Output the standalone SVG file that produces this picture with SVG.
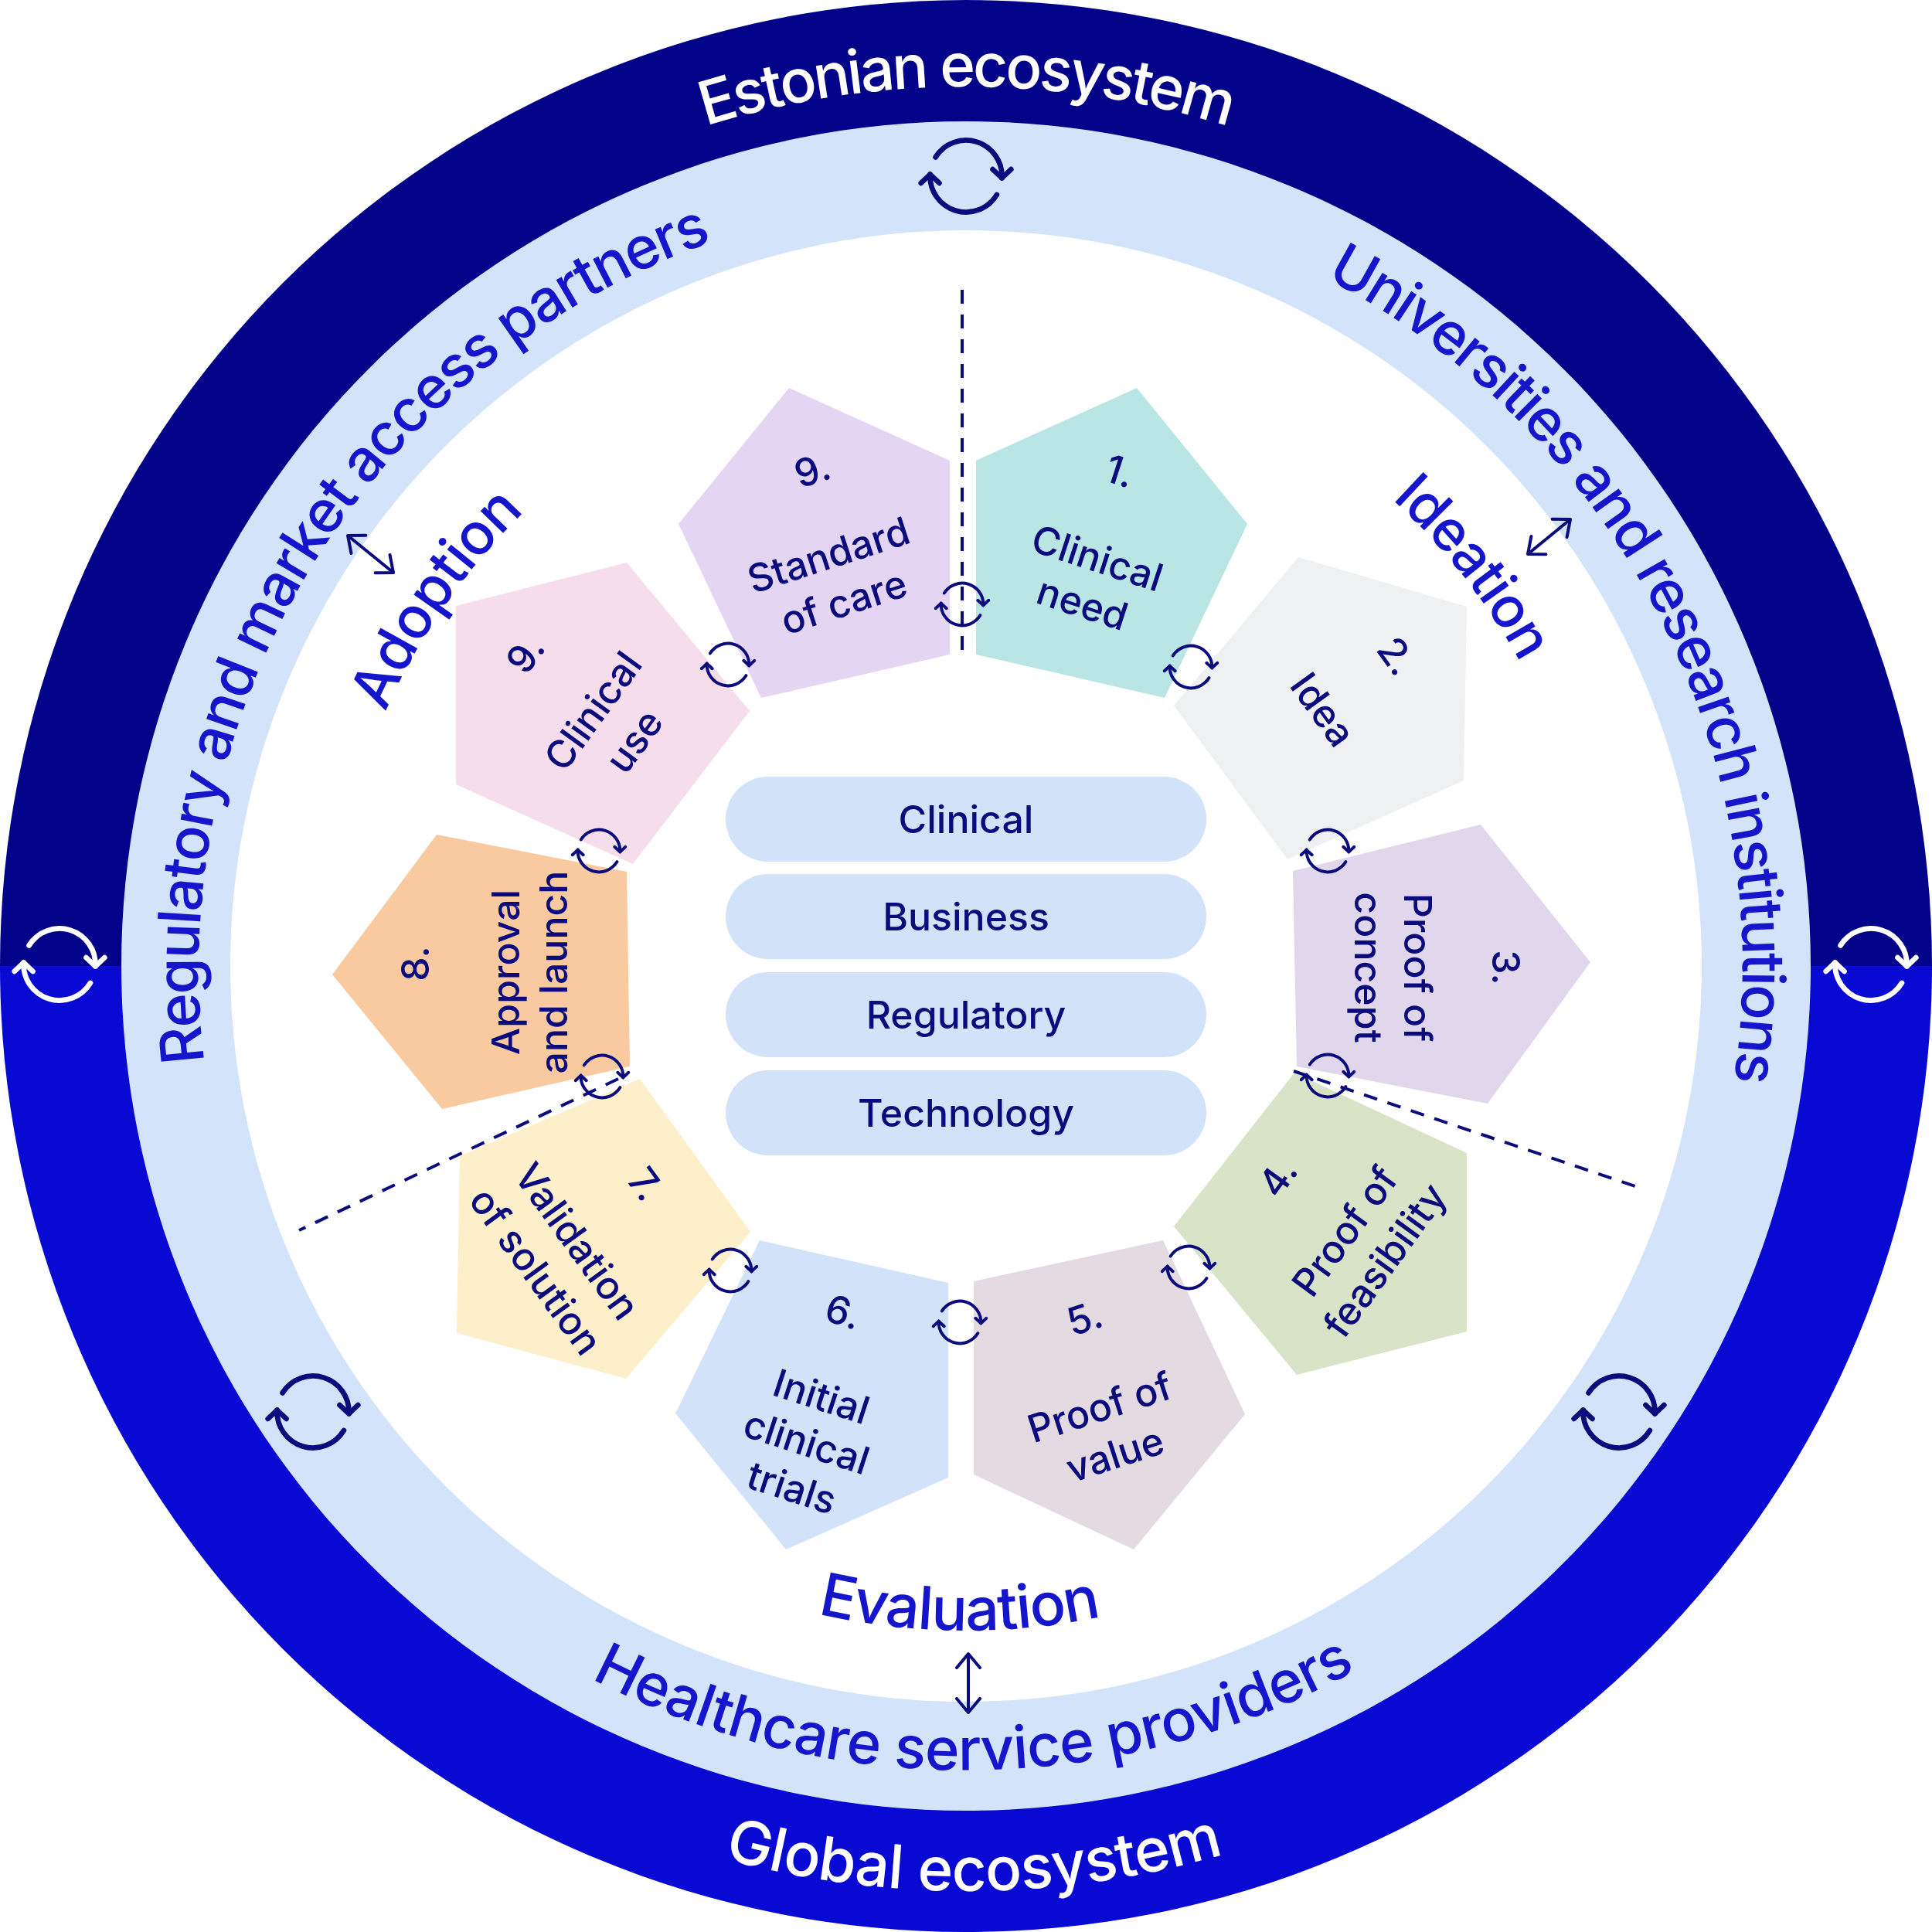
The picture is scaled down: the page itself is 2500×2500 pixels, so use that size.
<svg xmlns="http://www.w3.org/2000/svg" xmlns:xlink="http://www.w3.org/1999/xlink" width="2500" height="2500" viewBox="0 0 2500 2500">
<defs>
<style>
.lbl{font-family:Inter,"Noto Sans","Liberation Sans",sans-serif;font-size:50px;font-weight:500;fill:#0b0b7e;text-anchor:middle}
.ring{font-family:Inter,"Noto Sans","Liberation Sans",sans-serif;font-size:76px;font-weight:500;fill:#1515cc}
.outer{font-family:Inter,"Noto Sans","Liberation Sans",sans-serif;font-size:78px;font-weight:500;fill:#ffffff}
.phase{font-family:Inter,"Noto Sans","Liberation Sans",sans-serif;font-weight:500;fill:#1515cc}
.pill{fill:#d1e2f9}
.dash{fill:none;stroke:#0b0b7e;stroke-width:4;stroke-dasharray:18 14}
.arr{fill:none;stroke:#0b0b7e;stroke-width:4;marker-start:url(#chev);marker-end:url(#chev)}
</style>
<marker id="chev" viewBox="-2 -18 24 36" refX="18" refY="0" markerWidth="24" markerHeight="36" markerUnits="userSpaceOnUse" orient="auto-start-reverse">
<path d="M0 -15 L18 0 L0 15" fill="none" stroke="#0b0b7e" stroke-width="4" stroke-linecap="round" stroke-linejoin="round"/>
</marker>
<symbol id="cyc" viewBox="-60 -60 120 120">
<g fill="none" stroke="currentColor" stroke-width="6.5" stroke-linecap="round" stroke-linejoin="round">
<path d="M -38.16 -23.85 A 45 45 0 0 1 44.94 2.36"/>
<path d="M 33.4 -8.6 L 44.94 2.36 L 56.4 -8.6"/>
<path d="M 38.57 23.18 A 45 45 0 0 1 -44.94 -2.36"/>
<path d="M -56.4 8.6 L -44.94 -2.36 L -33.4 8.6"/>
</g>
</symbol>
<path id="pEst" d="M 112 1250 A 1138 1138 0 0 1 2388 1250"/>
<path id="pGlob" d="M 50.05 1260.47 A 1200 1200 0 0 0 2449.95 1239.53"/>
<path id="pUni" d="M 793.7 354.5 A 1005 1005 0 0 1 1706.3 2145.5"/>
<path id="pReg" d="M 725.6 2099.1 A 998 998 0 0 1 1774.4 400.9"/>
<path id="pHc" d="M 200.1 1261 A 1050 1050 0 0 0 2299.9 1239"/>
<path id="pEva" d="M 388.05 1240.97 A 862 862 0 0 0 2111.95 1259.03"/>
<path id="pIde" d="M 744.1 607.2 A 818 818 0 0 1 1755.9 1892.8"/>
<path id="pAdo" d="M 783.2 1924.2 A 820 820 0 0 1 1716.8 575.8"/>
</defs>

<g id="rings">
<path d="M 0 1250 A 1250 1250 0 0 1 2500 1250 Z" fill="#03038a"/>
<path d="M 0 1250 A 1250 1250 0 0 0 2500 1250 Z" fill="#0909d4"/>
<circle cx="1250" cy="1250" r="1093" fill="#d3e3fa"/>
<circle cx="1250" cy="1250" r="952" fill="#ffffff"/>
</g>

<g id="ring-labels">
<text class="outer" text-anchor="middle" letter-spacing="-3.6"><textPath href="#pEst" startOffset="50%">Estonian ecosystem</textPath></text>
<text class="outer" text-anchor="middle" letter-spacing="-0.7"><textPath href="#pGlob" startOffset="50%">Global ecosystem</textPath></text>
<text class="ring" text-anchor="middle" letter-spacing="-2.7"><textPath href="#pUni" startOffset="50%">Universities and research institutions</textPath></text>
<text class="ring" text-anchor="middle" letter-spacing="-2.2"><textPath href="#pReg" startOffset="50%">Regulatory and market access partners</textPath></text>
<text class="ring" text-anchor="middle" letter-spacing="-0.7"><textPath href="#pHc" startOffset="50%">Healthcare service providers</textPath></text>
<text class="phase" font-size="77" text-anchor="middle" letter-spacing="-1.2"><textPath href="#pEva" startOffset="50%">Evaluation</textPath></text>
<text class="phase" font-size="73" text-anchor="middle" letter-spacing="-1.5"><textPath href="#pIde" startOffset="50%">Ideation</textPath></text>
<text class="phase" font-size="75" text-anchor="middle" letter-spacing="-1"><textPath href="#pAdo" startOffset="50%">Adoption</textPath></text>
</g>

<g id="pillars">
<g id="pill-clinical"><rect class="pill" x="939" y="1005" width="622" height="110" rx="55"/><text class="lbl" x="1250" y="1078">Clinical</text></g>
<g id="pill-business"><rect class="pill" x="939" y="1131" width="622" height="110" rx="55"/><text class="lbl" x="1250" y="1204">Business</text></g>
<g id="pill-regulatory"><rect class="pill" x="939" y="1258" width="622" height="110" rx="55"/><text class="lbl" x="1250" y="1331">Regulatory</text></g>
<g id="pill-technology"><rect class="pill" x="939" y="1385" width="622" height="110" rx="55"/><text class="lbl" x="1250" y="1458">Technology</text></g>
</g>

<g id="p9-standard"><polygon points="1021,502 1229,596 1229,847 985,903 878,678" fill="#e4d5f3"/>
<g transform="translate(1072,718) rotate(-18)"><text class="lbl" x="14" y="-93">9.</text><text class="lbl" y="18">Standard</text><text class="lbl" y="82">of care</text></g></g>

<g id="p1-clinical-need"><polygon points="1263,596 1471,502 1614,678 1507,903 1263,847" fill="#b9e6e4"/>
<g transform="translate(1420,722) rotate(18)"><text class="lbl" x="-7" y="-98">1.</text><text class="lbl" y="18">Clinical</text><text class="lbl" y="80">need</text></g></g>

<g id="p2-idea"><polygon points="1680,721 1898,785 1894,1010 1666,1112 1519,913" fill="#eef0f2"/>
<g transform="translate(1712,918) rotate(54)"><text class="lbl" x="0" y="-100">2.</text><text class="lbl" y="18">Idea</text></g></g>

<g id="p3-proof-of-concept"><polygon points="1673,1127 1916,1067 2058,1245 1925,1428 1678,1380" fill="#e0d7ec"/>
<g transform="translate(1835,1252) rotate(90)"><text class="lbl" x="0" y="-96">3.</text><text class="lbl" y="18">Proof of</text><text class="lbl" y="82">concept</text></g></g>

<g id="p4-proof-of-feasibility"><polygon points="1675,1388 1898,1492 1898,1723 1678,1779 1519,1587" fill="#d9e3c8"/>
<g transform="translate(1740,1593) rotate(-54)"><text class="lbl" x="5" y="-93">4.</text><text class="lbl" y="18">Proof of</text><text class="lbl" y="82">feasibility</text></g></g>

<g id="p5-proof-of-value"><polygon points="1260,1658 1505,1605 1611,1830 1467,2005 1260,1908" fill="#e3dae2"/>
<g transform="translate(1423,1821) rotate(-18)"><text class="lbl" x="17" y="-98">5.</text><text class="lbl" y="18">Proof of</text><text class="lbl" y="82">value</text></g></g>

<g id="p6-initial-clinical-trials"><polygon points="983,1605 1227,1660 1227,1912 1017,2005 874,1829" fill="#d2e2f8"/>
<g transform="translate(1063,1807) rotate(18)"><text class="lbl" x="-7" y="-95">6.</text><text class="lbl" y="18">Initial</text><text class="lbl" y="80">clinical</text><text class="lbl" y="142">trials</text></g></g>

<g id="p7-validation"><polygon points="828,1396 971,1594 810,1784 591,1725 595,1496" fill="#fcefca"/>
<g transform="translate(747,1606) rotate(54)"><text class="lbl" x="-8" y="-97">7.</text><text class="lbl" y="18">Validation</text><text class="lbl" y="84">of solution</text></g></g>

<g id="p8-approval"><polygon points="565,1080 811,1128 815,1380 572,1435 430,1261" fill="#f9c9a0"/>
<g transform="translate(654,1258) rotate(-90)"><text class="lbl" x="11" y="-99">8.</text><text class="lbl" y="18">Approval</text><text class="lbl" y="80">and launch</text></g></g>

<g id="p9-clinical-use"><polygon points="811,728 970,920 819,1118 590,1015 590,784" fill="#f6ddec"/>
<g transform="translate(767,920) rotate(-54)"><text class="lbl" x="8" y="-96">9.</text><text class="lbl" y="18">Clinical</text><text class="lbl" y="84">use</text></g></g>

<g id="connectors">
<line class="dash" x1="1245" y1="375" x2="1245" y2="847"/>
<line class="dash" x1="1674" y1="1386" x2="2128" y2="1539"/>
<line class="dash" x1="800" y1="1396" x2="387" y2="1592"/>
<line class="arr" x1="1253" y1="2140" x2="1253" y2="2216"/>
<line class="arr" x1="450" y1="693" x2="509" y2="741"/>
<line class="arr" x1="1977" y1="717" x2="2032" y2="672"/>
<g color="#0b0b7e">
<use href="#cyc" x="1208.5" y="745.5" width="73" height="73"/>
<use href="#cyc" x="1504.5" y="826.5" width="73" height="73"/>
<use href="#cyc" x="1681.5" y="1064.5" width="73" height="73"/>
<use href="#cyc" x="1681.5" y="1355.5" width="73" height="73"/>
<use href="#cyc" x="1501.5" y="1603.5" width="73" height="73"/>
<use href="#cyc" x="1205.5" y="1674.5" width="73" height="73"/>
<use href="#cyc" x="908.5" y="1607.5" width="73" height="73"/>
<use href="#cyc" x="742.5" y="1356.5" width="73" height="73"/>
<use href="#cyc" x="738.5" y="1064.5" width="73" height="73"/>
<use href="#cyc" x="905.5" y="823.5" width="73" height="73"/>
<use href="#cyc" x="1188" y="166" width="124" height="124"/>
<use href="#cyc" x="343" y="1765" width="124" height="124"/>
<use href="#cyc" x="2033" y="1765" width="124" height="124"/>
</g>
<g color="#ffffff">
<use href="#cyc" x="15" y="1186" width="124" height="124"/>
<use href="#cyc" x="2359" y="1186" width="124" height="124"/>
</g>
</g>
</svg>
